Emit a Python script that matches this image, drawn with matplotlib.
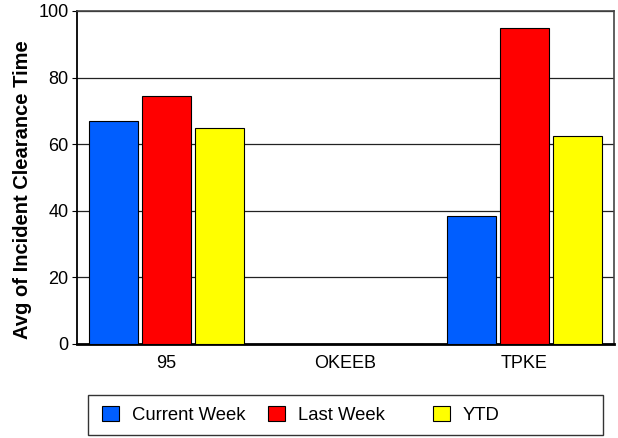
import matplotlib
matplotlib.use('Agg')
import matplotlib.pyplot as plt
import numpy as np
from matplotlib.patches import Rectangle

# data
categories = ['95', 'OKEEB', 'TPKE']
current_week = [67.0, 0, 38.3]
last_week = [74.5, 0, 94.8]
ytd = [65.0, 0, 62.4]
series_names = ['Current Week', 'Last Week', 'YTD']
colors = ['#005EFF', '#FF0000', '#FFFF00']
y_ticks = [0, 20, 40, 60, 80, 100]

plt.rcParams['font.family'] = ['Liberation Sans', 'DejaVu Sans']

fig = plt.figure(figsize=(6.18, 4.38), dpi=100)
ax = fig.add_axes([77 / 618, 1 - 344 / 438, 537 / 618, 333 / 438])

x = np.arange(len(categories))
w = 0.274
off = 0.296
handles = []
for i, vals in enumerate([current_week, last_week, ytd]):
    b = ax.bar(x + (i - 1) * off, vals, width=w, color=colors[i],
               edgecolor='black', linewidth=0.8, zorder=3, label=series_names[i])
    handles.append(b)

ax.set_xlim(-0.5, 2.5)
ax.set_ylim(0, 100)
ax.set_yticks(y_ticks)
ax.set_xticks(x)
ax.set_xticklabels(categories)
ax.tick_params(axis='x', length=0, pad=8, labelsize=13)
ax.tick_params(axis='y', length=3.5, width=0.8, pad=2.5, labelsize=13)

# gridlines
ax.yaxis.grid(True, color='#222222', linewidth=0.9, zorder=0)
ax.set_axisbelow(True)

ax.spines['left'].set_linewidth(1.3)
ax.spines['bottom'].set_linewidth(2.0)
ax.spines['top'].set_color('#444444')
ax.spines['right'].set_color('#444444')
ax.spines['top'].set_linewidth(1.2)
ax.spines['right'].set_linewidth(1.2)

ax.set_ylabel('Avg of Incident Clearance Time', fontsize=14.5, fontweight='bold')
ax.yaxis.set_label_coords(-0.084, 0.464)

# legend box
fig.patches.append(Rectangle((88 / 618, 1 - 435 / 438), 515 / 618, 40 / 438,
                             transform=fig.transFigure, facecolor='white',
                             edgecolor='#333333', linewidth=1.0))
legend_x = [102, 268, 433]
for i in range(3):
    fig.legend(handles=[handles[i]], labels=[series_names[i]],
               loc='center left', bbox_to_anchor=(legend_x[i] / 618, 1 - 415 / 438),
               frameon=False, fontsize=13.3, handlelength=0.92, handleheight=0.92,
               handletextpad=0.7, borderpad=0, borderaxespad=0)

plt.savefig('out.png', dpi=100)
